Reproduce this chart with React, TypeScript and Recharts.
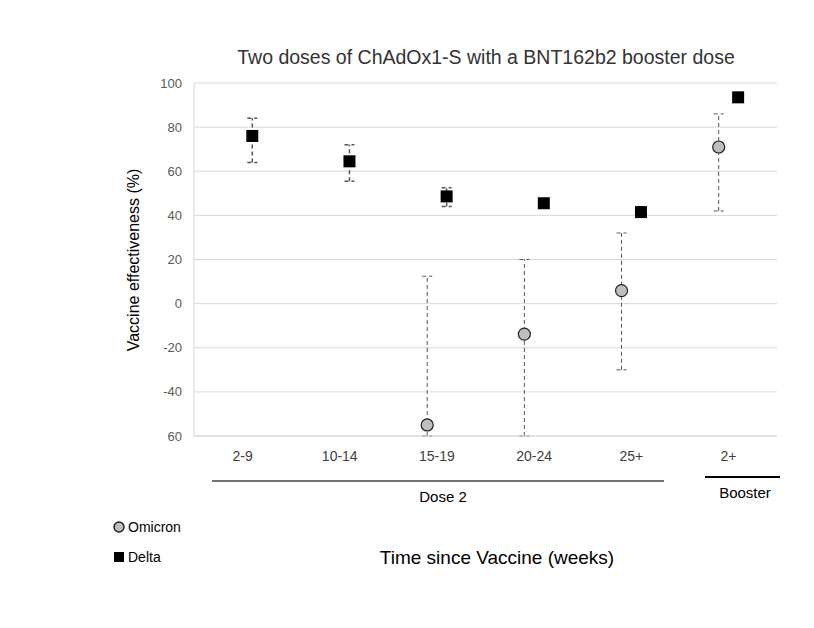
import React from 'react';
import { ScatterChart, Scatter, XAxis, YAxis, CartesianGrid, ErrorBar } from 'recharts';

const categories = ['2-9', '10-14', '15-19', '20-24', '25+', '2+'];

// Delta: point estimate and 95% CI
const deltaVE = [76, 64.5, 48.6, 45.5, 41.5, 93.5];
const deltaLow = [64, 55.5, 44, 44, 40, 92.5];
const deltaHigh = [84, 72, 52.5, 47, 43, 94.5];

// Omicron: only from 15-19 onwards
const omicronCats = ['15-19', '20-24', '25+', '2+'];
const omicronVE = [-55, -13.8, 5.9, 71];
const omicronLow = [-60, -60, -30, 42];
const omicronHigh = [12.4, 20, 32, 86];

const yTicks = [-60, -40, -20, 0, 20, 40, 60, 80, 100];

const deltaData = categories.map((c, i) => ({
  x: i + 0.6,
  y: deltaVE[i],
  err: [deltaVE[i] - deltaLow[i], deltaHigh[i] - deltaVE[i]],
}));

const omicronData = omicronCats.map((c, i) => {
  const idx = categories.indexOf(c);
  return {
    x: idx + 0.4,
    y: omicronVE[i],
    err: [omicronVE[i] - omicronLow[i], omicronHigh[i] - omicronVE[i]],
  };
});

const font = '"Liberation Sans", Arial, sans-serif';

const Square = (props: any) => {
  const { cx, cy } = props;
  return <rect x={cx - 6} y={cy - 6} width={12} height={12} fill="#000" />;
};

const Dot = (props: any) => {
  const { cx, cy } = props;
  return <circle cx={cx} cy={cy} r={6} fill="#bfbfbf" stroke="#222" strokeWidth={1.2} />;
};

const Nothing = () => <g />;

export default function App() {
  return (
    <div style={{ position: 'absolute', left: 0, top: 0, width: 814, height: 628, background: '#fff', fontFamily: font }}>
      <ScatterChart width={814} height={628} margin={{ top: 83, right: 37, bottom: 162, left: 0 }}>
        <CartesianGrid vertical={false} stroke="#d9d9d9" />
        <XAxis
          type="number"
          dataKey="x"
          domain={[0, 6]}
          ticks={[0.5, 1.5, 2.5, 3.5, 4.5, 5.5]}
          tickFormatter={(v: number) => categories[Math.floor(v)]}
          height={30}
          tickLine={false}
          axisLine={{ stroke: '#d9d9d9' }}
          tick={{ fill: '#404040', fontSize: 14, fontFamily: font }}
          tickMargin={9}
        />
        <YAxis
          type="number"
          dataKey="y"
          domain={[-60, 100]}
          ticks={yTicks}
          allowDataOverflow
          width={194}
          tickLine={false}
          axisLine={{ stroke: '#d9d9d9' }}
          tick={{ fill: '#595959', fontSize: 13, fontFamily: font }}
          tickFormatter={(v: number) => (v === -60 ? '60' : String(v))}
          tickMargin={6}
        />
        {/* error bars first so the markers sit on top */}
        <Scatter data={omicronData} shape={<Nothing />} isAnimationActive={false} legendType="none">
          <ErrorBar dataKey="err" direction="y" width={5} stroke="#555" strokeWidth={1} strokeDasharray="4 3" />
        </Scatter>
        <Scatter data={deltaData} shape={<Nothing />} isAnimationActive={false} legendType="none">
          <ErrorBar dataKey="err" direction="y" width={5} stroke="#555" strokeWidth={1.5} strokeDasharray="4 3" />
        </Scatter>
        <Scatter data={omicronData} shape={<Dot />} isAnimationActive={false} />
        <Scatter data={deltaData} shape={<Square />} isAnimationActive={false} />
      </ScatterChart>
      <svg width={814} height={628} style={{ position: 'absolute', left: 0, top: 0, pointerEvents: 'none' }}>
        <text x={486} y={64} textAnchor="middle" fontSize={19.5} fill="#333" fontFamily={font}>
          Two doses of ChAdOx1-S with a BNT162b2 booster dose
        </text>
        <text
          x={0}
          y={0}
          transform="translate(139,260) rotate(-90)"
          textAnchor="middle"
          fontSize={16}
          fill="#000"
          fontFamily={font}
        >
          Vaccine effectiveness (%)
        </text>
        <line x1={212} x2={664} y1={481} y2={481} stroke="#444" strokeWidth={1.5} />
        <text x={443} y={502} textAnchor="middle" fontSize={15} fill="#000" fontFamily={font}>Dose 2</text>
        <line x1={705} x2={780} y1={477} y2={477} stroke="#000" strokeWidth={2} />
        <text x={745} y={498} textAnchor="middle" fontSize={15} fill="#000" fontFamily={font}>Booster</text>
        <circle cx={119} cy={527} r={5} fill="#bfbfbf" stroke="#222" strokeWidth={1.5} />
        <text x={128} y={532} fontSize={14} fill="#000" fontFamily={font}>Omicron</text>
        <rect x={114} y={552} width={10} height={10} fill="#000" />
        <text x={128} y={562} fontSize={14} fill="#000" fontFamily={font}>Delta</text>
        <text x={497} y={564} textAnchor="middle" fontSize={19} fill="#000" fontFamily={font}>
          Time since Vaccine (weeks)
        </text>
      </svg>
    </div>
  );
}
